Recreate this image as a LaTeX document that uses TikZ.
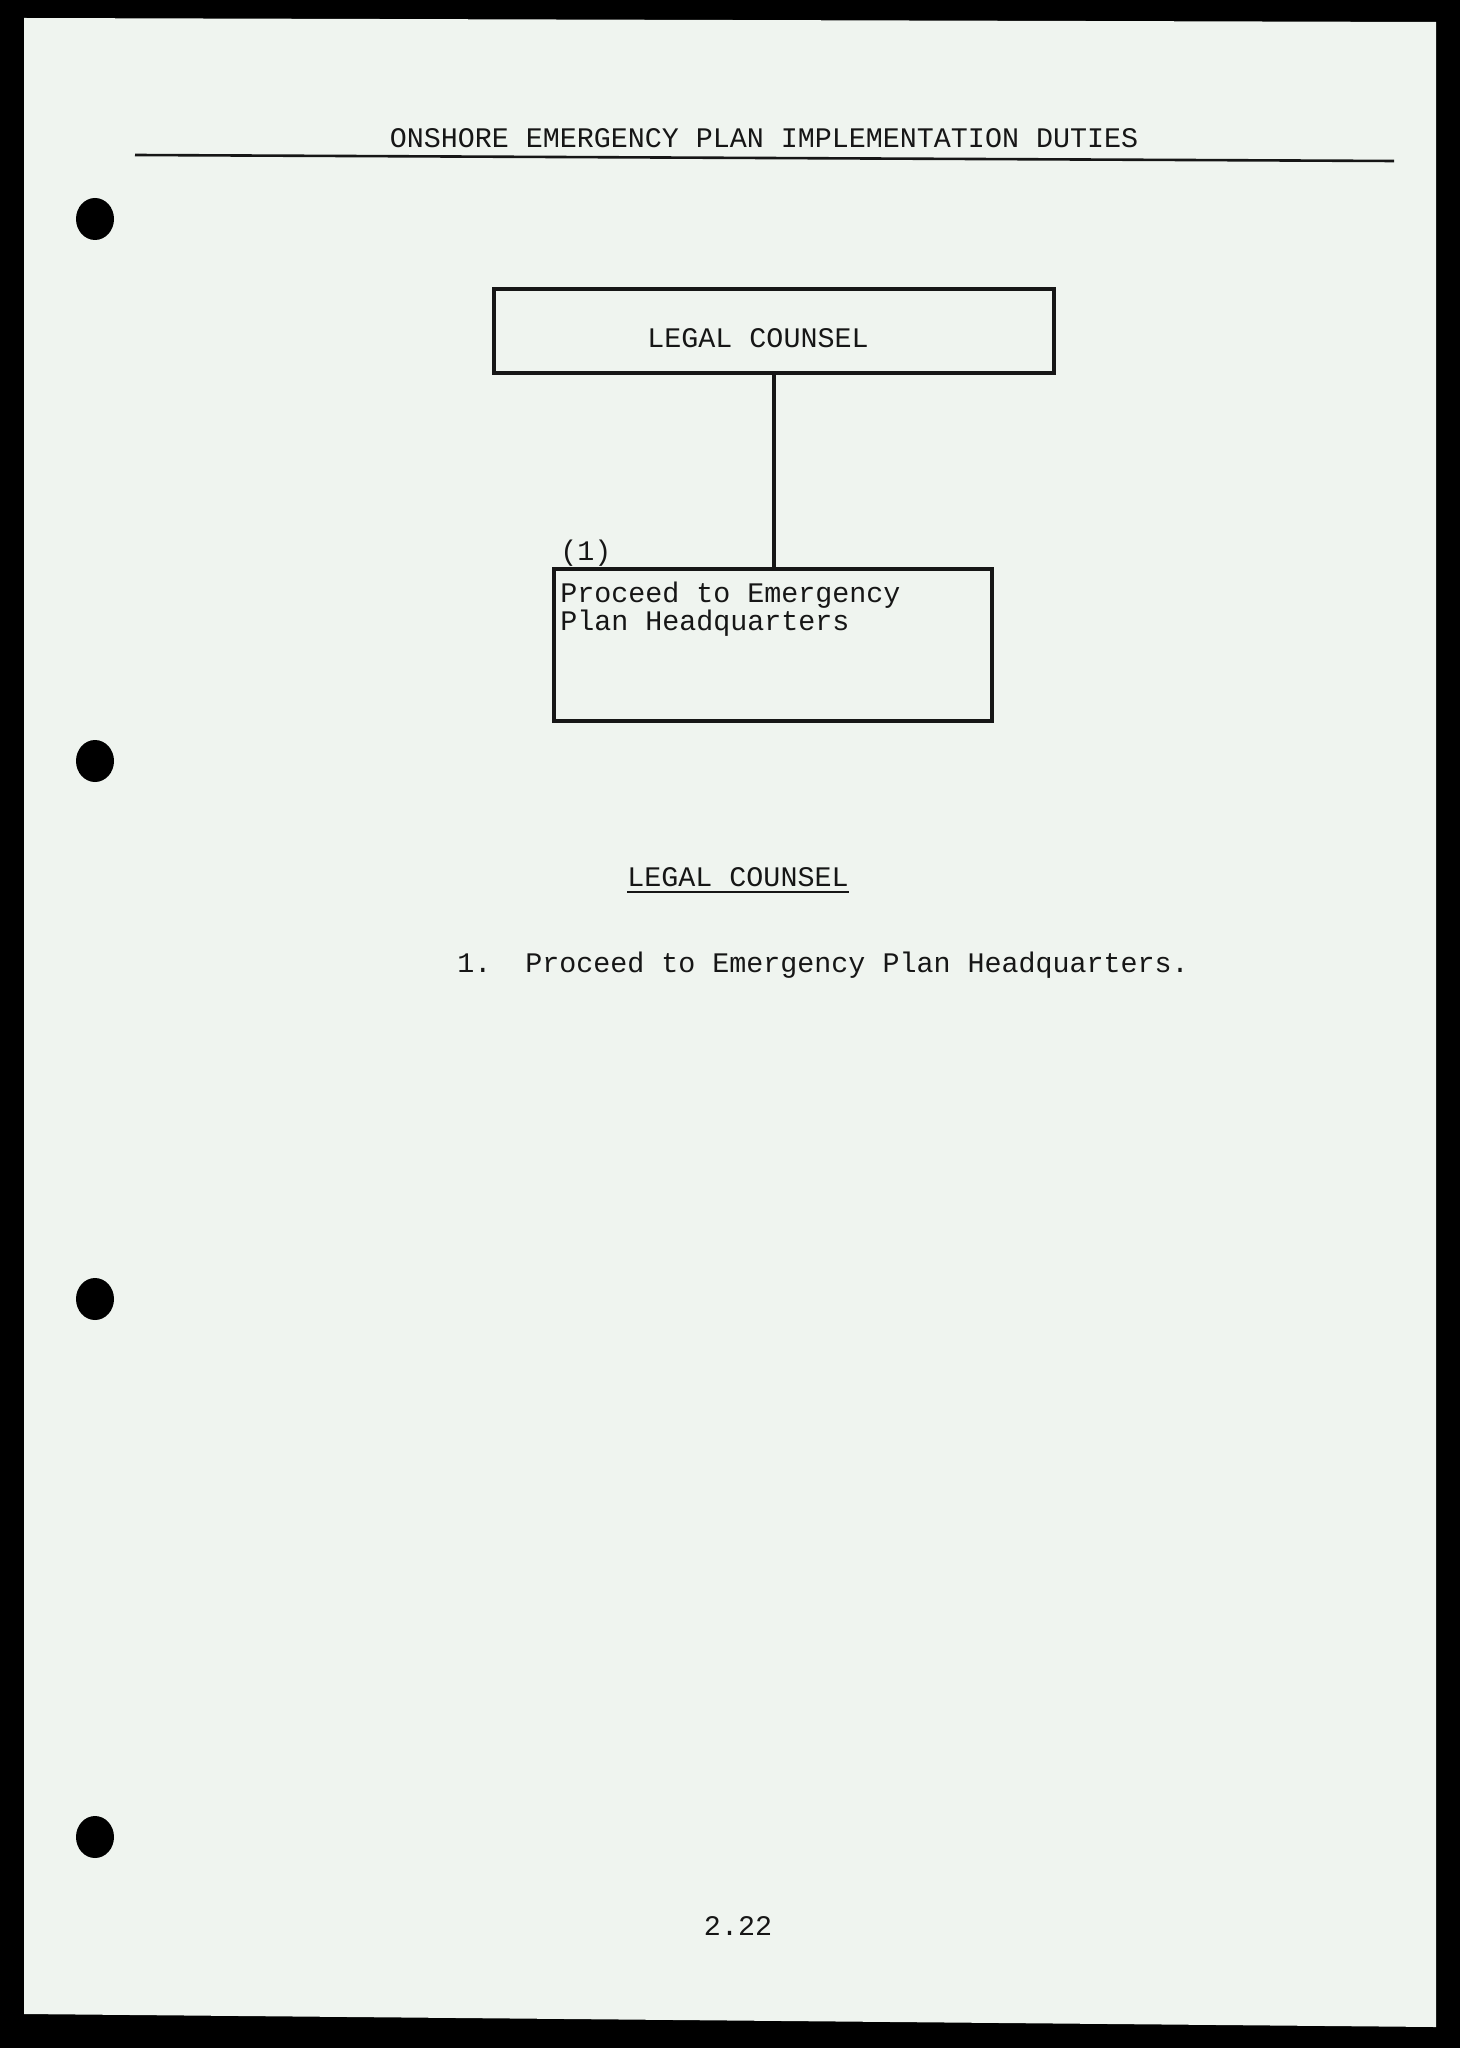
\documentclass[tikz,border=0pt]{standalone}
\usepackage{fontspec}
\setmonofont{Liberation Mono}
\definecolor{paper}{RGB}{239,244,239}
\definecolor{ink}{RGB}{22,22,22}
\begin{document}
\begin{tikzpicture}[x=0.5pt,y=-0.5pt,font=\ttfamily\fontsize{14.17}{14}\selectfont,text=ink,
  duty/.style={draw=ink,line width=1.6pt,inner sep=0pt}]
  \useasboundingbox (0,0) rectangle (1460,2048);
  \fill[black] (0,0) rectangle (1460,2048);
  \fill[paper] (24,18) -- (1436,22) -- (1436,2027) -- (24,2014) -- cycle;
  \foreach \y in {219,761,1299,1837} \fill[black] (95,\y) ellipse [x radius=19,y radius=21];
  \node[anchor=base,inner sep=0pt] (title) at (764,148) {ONSHORE EMERGENCY PLAN IMPLEMENTATION DUTIES};
  \draw[ink,line width=1.3pt] (135,155) -- (1394,161);
  \node[duty,minimum width=280pt,minimum height=42pt,text height=17pt,text depth=0pt] (counsel) at (774,331) {LEGAL COUNSEL\kern16pt};
  \node[duty,minimum width=219pt,minimum height=76pt] (duty1) at (773,645) {};
  \node[anchor=north west,align=left,inner sep=0pt] (duty1text) at (560,582) {Proceed to Emergency\\Plan Headquarters};
  \node[anchor=base west,inner sep=0pt] (num1) at (560,560) {(1)};
  \draw[ink,line width=1.6pt] (counsel.south) -- (counsel.south |- duty1.north);
  \node[anchor=base,inner sep=0pt] (heading) at (738,886) {LEGAL COUNSEL};
  \draw[ink,line width=1.1pt] ([yshift=-3pt]heading.base west) -- ([yshift=-3pt]heading.base east);
  \node[anchor=base west,inner sep=0pt] (item1) at (457,972) {1.\hspace{17pt}Proceed to Emergency Plan Headquarters.};
  \node[anchor=base,inner sep=0pt] (page) at (738,1935) {2.22};
\end{tikzpicture}
\end{document}
